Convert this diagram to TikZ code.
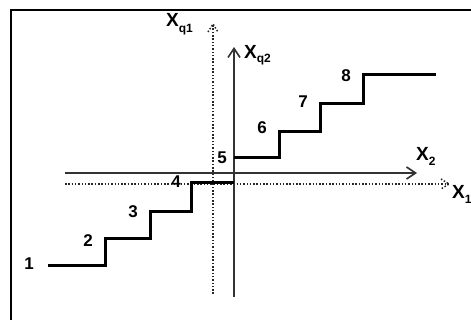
\documentclass[tikz,border=0pt]{standalone}
\usepackage{fontspec}
\setmainfont{Liberation Sans}
\usetikzlibrary{arrows.meta,calc}
\begin{document}
\begin{tikzpicture}[x=1pt,y=-1pt,
  lbl/.style={font=\bfseries\fontsize{17}{17}\selectfont, inner sep=0pt},
  axlbl/.style={inner sep=0pt, anchor=base west},
  stair/.style={line width=3pt, line join=miter, line cap=butt},
  axis/.style={line width=2pt, draw=black!80, -{Straight Barb[length=9pt,width=12pt,line width=1.6pt]}},
  daxis/.style={line width=1.5pt, draw=black!85, dash pattern={on 1.5pt off 1.8pt}},
  frame/.style={line width=2.4pt}]
\useasboundingbox (0,0) rectangle (471,320);
\draw[frame] (11,320) -- (11,10) -- (471,10);
% axes coordinates
\coordinate (x2s) at (65,173); \coordinate (x2e) at (417,173);
\coordinate (x1s) at (65,184); \coordinate (x1e) at (449,184);
\coordinate (q2s) at (234,297); \coordinate (q2e) at (234,47);
\coordinate (q1s) at (213,294); \coordinate (q1e) at (213,24);
% dotted axes
\draw[daxis] (x1s) -- (x1e);
\draw[daxis] ($(x1e)+(-8,-5)$) -- (x1e) -- ($(x1e)+(-8,5)$);
\draw[daxis] (q1s) -- (q1e);
\draw[daxis] ($(q1e)+(-5,8)$) -- (q1e) -- ($(q1e)+(5,8)$);
% solid axes
\draw[axis] (x2s) -- (x2e);
\draw[axis] (q2s) -- (q2e);
% staircase
\coordinate (a1) at (48,266);
\coordinate (a2) at (105,266);
\coordinate (a3) at (105,239);
\coordinate (a4) at (150,239);
\coordinate (a5) at (150,212);
\coordinate (a6) at (191,212);
\coordinate (a7) at (191,183);
\coordinate (a8) at (234,183);
\coordinate (b1) at (234,158);
\coordinate (b2) at (279,158);
\coordinate (b3) at (279,132);
\coordinate (b4) at (320,132);
\coordinate (b5) at (320,104);
\coordinate (b6) at (363,104);
\coordinate (b7) at (363,75);
\coordinate (b8) at (436,75);
\draw[stair] (a1) -- (a2) -- (a3) -- (a4) -- (a5) -- (a6) -- (a7) -- (a8);
\draw[stair] (b1) -- (b2) -- (b3) -- (b4) -- (b5) -- (b6) -- (b7) -- (b8);
% step labels
\node[lbl] (l1) at (29,264) {1};
\node[lbl] (l2) at (88,241) {2};
\node[lbl] (l3) at (133,212) {3};
\node[lbl] (l4) at (176,182) {4};
\node[lbl] (l5) at (222,158) {5};
\node[lbl] (l6) at (262,128) {6};
\node[lbl] (l7) at (303,102) {7};
\node[lbl] (l8) at (346,76) {8};
% axis labels
\node[axlbl] (tq1) at (166,27) {\bfseries\fontsize{19}{19}\selectfont X\raisebox{-6pt}{\fontsize{12}{12}\selectfont q1}};
\node[axlbl] (tq2) at (244,59) {\bfseries\fontsize{19}{19}\selectfont X\raisebox{-4pt}{\fontsize{12}{12}\selectfont q2}};
\node[axlbl] (t2) at (416,161) {\bfseries\fontsize{19}{19}\selectfont X\raisebox{-5pt}{\fontsize{12}{12}\selectfont 2}};
\node[axlbl] (t1) at (452,199) {\bfseries\fontsize{19}{19}\selectfont X\raisebox{-5pt}{\fontsize{12}{12}\selectfont 1}};
\end{tikzpicture}
\end{document}
